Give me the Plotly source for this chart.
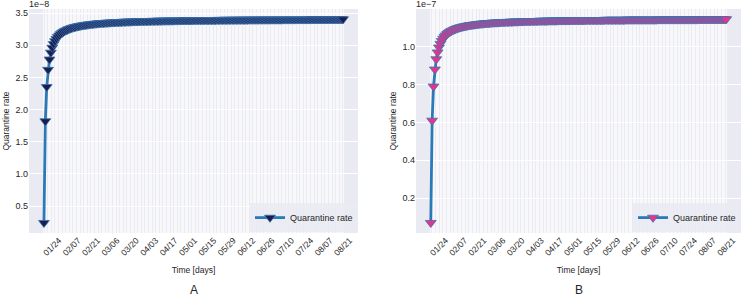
import pandas as pd
import plotly.graph_objects as go

# ---------------- data ----------------
dates = pd.date_range("2020-01-19", "2020-08-22", freq="D")

# Panel A values (units of 1e-8)
quarantine_rate_A = [
    0.240, 1.820, 2.353, 2.620, 2.780, 2.887, 2.963, 3.020, 3.064, 3.100,
    3.129, 3.153, 3.174, 3.191, 3.207, 3.220, 3.232, 3.242, 3.252, 3.260,
    3.268, 3.275, 3.281, 3.287, 3.292, 3.297, 3.301, 3.306, 3.310, 3.313,
    3.317, 3.320, 3.323, 3.326, 3.329, 3.331, 3.334, 3.336, 3.338, 3.340,
    3.342, 3.344, 3.346, 3.347, 3.349, 3.350, 3.352, 3.353, 3.355, 3.356,
    3.357, 3.358, 3.360, 3.361, 3.362, 3.363, 3.364, 3.365, 3.366, 3.367,
    3.368, 3.368, 3.369, 3.370, 3.371, 3.372, 3.372, 3.373, 3.374, 3.374,
    3.375, 3.376, 3.376, 3.377, 3.377, 3.378, 3.378, 3.379, 3.380, 3.380,
    3.380, 3.381, 3.381, 3.382, 3.382, 3.383, 3.383, 3.384, 3.384, 3.384,
    3.385, 3.385, 3.386, 3.386, 3.386, 3.387, 3.387, 3.387, 3.388, 3.388,
    3.388, 3.389, 3.389, 3.389, 3.390, 3.390, 3.390, 3.390, 3.391, 3.391,
    3.391, 3.391, 3.392, 3.392, 3.392, 3.392, 3.393, 3.393, 3.393, 3.393,
    3.394, 3.394, 3.394, 3.394, 3.394, 3.395, 3.395, 3.395, 3.395, 3.395,
    3.396, 3.396, 3.396, 3.396, 3.396, 3.396, 3.397, 3.397, 3.397, 3.397,
    3.397, 3.397, 3.398, 3.398, 3.398, 3.398, 3.398, 3.398, 3.399, 3.399,
    3.399, 3.399, 3.399, 3.399, 3.399, 3.399, 3.400, 3.400, 3.400, 3.400,
    3.400, 3.400, 3.400, 3.400, 3.401, 3.401, 3.401, 3.401, 3.401, 3.401,
    3.401, 3.401, 3.401, 3.402, 3.402, 3.402, 3.402, 3.402, 3.402, 3.402,
    3.402, 3.402, 3.403, 3.403, 3.403, 3.403, 3.403, 3.403, 3.403, 3.403,
    3.403, 3.403, 3.403, 3.404, 3.404, 3.404, 3.404, 3.404, 3.404, 3.404,
    3.404, 3.404, 3.404, 3.404, 3.404, 3.405, 3.405, 3.405, 3.405, 3.405,
    3.405, 3.405, 3.405, 3.405, 3.405, 3.405, 3.405,
]

# Panel B values (units of 1e-7)
quarantine_rate_B = [
    0.070, 0.610, 0.790, 0.880, 0.934, 0.970, 0.996, 1.015, 1.030, 1.042,
    1.052, 1.060, 1.067, 1.073, 1.078, 1.083, 1.086, 1.090, 1.093, 1.096,
    1.099, 1.101, 1.103, 1.105, 1.107, 1.108, 1.110, 1.111, 1.113, 1.114,
    1.115, 1.116, 1.117, 1.118, 1.119, 1.120, 1.121, 1.122, 1.122, 1.123,
    1.124, 1.124, 1.125, 1.125, 1.126, 1.127, 1.127, 1.128, 1.128, 1.128,
    1.129, 1.129, 1.130, 1.130, 1.130, 1.131, 1.131, 1.131, 1.132, 1.132,
    1.132, 1.133, 1.133, 1.133, 1.133, 1.134, 1.134, 1.134, 1.134, 1.135,
    1.135, 1.135, 1.135, 1.135, 1.136, 1.136, 1.136, 1.136, 1.136, 1.137,
    1.137, 1.137, 1.137, 1.137, 1.137, 1.137, 1.138, 1.138, 1.138, 1.138,
    1.138, 1.138, 1.138, 1.139, 1.139, 1.139, 1.139, 1.139, 1.139, 1.139,
    1.139, 1.139, 1.140, 1.140, 1.140, 1.140, 1.140, 1.140, 1.140, 1.140,
    1.140, 1.140, 1.140, 1.141, 1.141, 1.141, 1.141, 1.141, 1.141, 1.141,
    1.141, 1.141, 1.141, 1.141, 1.141, 1.141, 1.141, 1.142, 1.142, 1.142,
    1.142, 1.142, 1.142, 1.142, 1.142, 1.142, 1.142, 1.142, 1.142, 1.142,
    1.142, 1.142, 1.142, 1.143, 1.143, 1.143, 1.143, 1.143, 1.143, 1.143,
    1.143, 1.143, 1.143, 1.143, 1.143, 1.143, 1.143, 1.143, 1.143, 1.143,
    1.143, 1.143, 1.143, 1.143, 1.143, 1.143, 1.144, 1.144, 1.144, 1.144,
    1.144, 1.144, 1.144, 1.144, 1.144, 1.144, 1.144, 1.144, 1.144, 1.144,
    1.144, 1.144, 1.144, 1.144, 1.144, 1.144, 1.144, 1.144, 1.144, 1.144,
    1.144, 1.144, 1.144, 1.144, 1.144, 1.144, 1.145, 1.145, 1.145, 1.145,
    1.145, 1.145, 1.145, 1.145, 1.145, 1.145, 1.145, 1.145, 1.145, 1.145,
    1.145, 1.145, 1.145, 1.145, 1.145, 1.145, 1.145,
]

tick_labels = ["01/24", "02/07", "02/21", "03/06", "03/20", "04/03", "04/17",
               "05/01", "05/15", "05/29", "06/12", "06/26", "07/10", "07/24",
               "08/07", "08/21"]
yticks_A = [0.5, 1.0, 1.5, 2.0, 2.5, 3.0, 3.5]
yticks_B = [0.2, 0.4, 0.6, 0.8, 1.0]
series_name = "Quarantine rate"
panel_labels = ["A", "B"]
exponent_labels = ["1e\u22128", "1e\u22127"]

# ---------------- styling ----------------
FONT = "Liberation Sans, Arial, sans-serif"
TXT = "#262626"
BG = "#EAEAF2"
LINE = "#2a7ab8"
EDGE = "#3a74b0"

xdom_A = [29 / 746, 358 / 746]
xdom_B = [416 / 746, 741 / 746]
ydom = [1 - 233 / 298, 1 - 9 / 298]


def padded(lo, hi, f=0.05):
    d = (hi - lo) * f
    return [lo - d, hi + d]


span = dates[-1] - dates[0]
xrange_ = [dates[0] - span * 0.05, dates[-1] + span * 0.05]
label_set = set(tick_labels)
ticktext = [d.strftime("%m/%d") if d.strftime("%m/%d") in label_set else "" for d in dates]

fig = go.Figure()
fig.add_trace(go.Scatter(
    x=dates, y=quarantine_rate_A, mode="lines+markers", name=series_name,
    line=dict(color=LINE, width=2.8), showlegend=True,
    marker=dict(symbol="triangle-down", size=9.5, color="#1b1d4d",
                line=dict(color=EDGE, width=0.8)),
    xaxis="x", yaxis="y", legend="legend"))
fig.add_trace(go.Scatter(
    x=dates, y=quarantine_rate_B, mode="lines+markers", name=series_name,
    line=dict(color=LINE, width=2.8), showlegend=True,
    marker=dict(symbol="triangle-down", size=9.5, color="#e8338c",
                line=dict(color=EDGE, width=0.8)),
    xaxis="x2", yaxis="y2", legend="legend2"))

xcommon = dict(type="date", range=xrange_, tickmode="array", tickvals=list(dates),
               ticktext=ticktext, tickangle=-45, showgrid=True,
               gridcolor="rgba(255,255,255,0.65)",
               gridwidth=1, zeroline=False, showline=False, ticks="",
               ticklabelshift=8,
               tickfont=dict(family=FONT, size=8.5, color=TXT),
               title=dict(text="Time [days]", font=dict(family=FONT, size=8.5, color=TXT),
                          standoff=10))
ycommon = dict(showgrid=True, gridcolor="white", gridwidth=1, zeroline=False,
               showline=False, ticks="", tickformat=".1f",
               tickfont=dict(family=FONT, size=9, color=TXT),
               title=dict(text="Quarantine rate", font=dict(family=FONT, size=8.5, color=TXT),
                          standoff=4))

legend_common = dict(xanchor="right", y=ydom[0] + 0.003, yanchor="bottom",
                     bgcolor="rgba(234,234,242,0.85)", borderwidth=0,
                     font=dict(family=FONT, size=9, color=TXT), itemwidth=30)

fig.update_layout(
    width=746, height=298, margin=dict(l=0, r=0, t=0, b=0),
    paper_bgcolor="white", plot_bgcolor=BG, showlegend=True,
    xaxis=dict(domain=xdom_A, anchor="y", **xcommon),
    xaxis2=dict(domain=xdom_B, anchor="y2", **xcommon),
    yaxis=dict(domain=ydom, anchor="x", range=padded(min(quarantine_rate_A), max(quarantine_rate_A)),
               tickvals=yticks_A, **ycommon),
    yaxis2=dict(domain=ydom, anchor="x2", range=padded(min(quarantine_rate_B), max(quarantine_rate_B)),
                tickvals=yticks_B, **ycommon),
    legend=dict(x=xdom_A[1], visible=True, **legend_common),
    legend2=dict(x=xdom_B[1], visible=True, **legend_common),
)

for dom, lab, ex in zip([xdom_A, xdom_B], panel_labels, exponent_labels):
    fig.add_annotation(x=(dom[0] + dom[1]) / 2, y=8 / 298, xref="paper", yref="paper",
                       text=lab, showarrow=False, xanchor="center", yanchor="middle",
                       font=dict(family=FONT, size=12, color=TXT))
    fig.add_annotation(x=dom[0], y=ydom[1], xref="paper", yref="paper",
                       text=ex, showarrow=False, xanchor="left", yanchor="bottom",
                       yshift=-2, xshift=-2,
                       font=dict(family=FONT, size=9, color=TXT))

fig.write_html("out.html", config={"displayModeBar": False},
               post_script="document.body.style.margin='0';document.body.style.padding='0';")
